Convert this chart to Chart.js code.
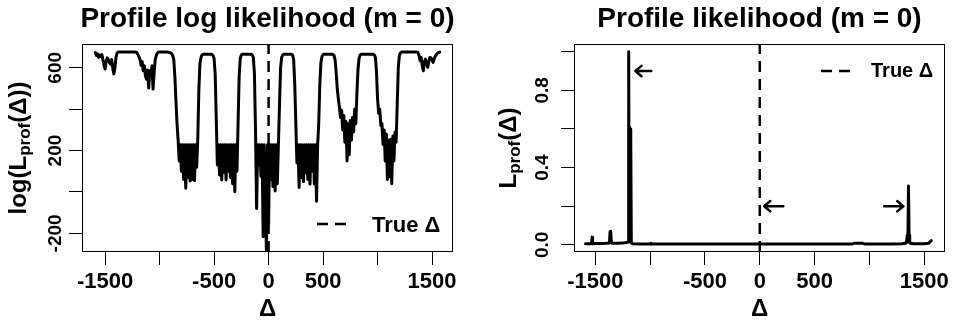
<!DOCTYPE html>
<html lang="en">
<head>
<meta charset="UTF-8">
<title>Profile likelihood (m = 0)</title>
<script src="https://cdn.jsdelivr.net/npm/chart.js@4"></script>
<style>
  body { margin: 0; background: #fff; }
  canvas.panel { position: absolute; top: 0; }
</style>
</head>
<body>
<canvas id="loglik" class="panel" width="478" height="327" style="left:0"></canvas>
<canvas id="lik" class="panel" width="478" height="327" style="left:478px"></canvas>
<script>
// --- data ---
const trueDelta = 0;

// left panel: profile log likelihood, delta grid
const deltaLoglik = [
  -1590, -1580, -1570, -1560, -1550, -1540, -1530, -1520, -1510, -1500,
  -1490, -1480, -1470, -1460, -1450, -1440, -1430, -1420, -1410, -1400,
  -1390, -1380, -1370, -1360, -1350, -1340, -1330, -1320, -1310, -1300,
  -1290, -1280, -1270, -1260, -1250, -1240, -1230, -1220, -1210, -1200,
  -1190, -1180, -1170, -1160, -1150, -1140, -1130, -1120, -1110, -1100,
  -1090, -1080, -1070, -1060, -1050, -1040, -1030, -1020, -1010, -1000,
  -990, -980, -970, -960, -950, -940, -930, -920, -910, -900,
  -890, -880, -870, -860, -850, -840, -830, -820, -810, -800,
  -790, -780, -770, -760, -750, -740, -730, -720, -710, -700,
  -690, -680, -670, -660, -650, -640, -630, -620, -610, -600,
  -590, -580, -570, -560, -550, -540, -530, -520, -510, -500,
  -490, -480, -470, -460, -450, -440, -430, -420, -410, -400,
  -390, -380, -370, -360, -350, -340, -330, -320, -310, -300,
  -290, -280, -270, -260, -250, -240, -230, -220, -210, -200,
  -190, -180, -170, -160, -150, -140, -130, -120, -110, -100,
  -90, -80, -70, -60, -50, -40, -30, -20, -10, 0,
  10, 20, 30, 40, 50, 60, 70, 80, 90, 100,
  110, 120, 130, 140, 150, 160, 170, 180, 190, 200,
  210, 220, 230, 240, 250, 260, 270, 280, 290, 300,
  310, 320, 330, 340, 350, 360, 370, 380, 390, 400,
  410, 420, 430, 440, 450, 460, 470, 480, 490, 500,
  510, 520, 530, 540, 550, 560, 570, 580, 590, 600,
  610, 620, 630, 640, 650, 660, 670, 680, 690, 700,
  710, 720, 730, 740, 750, 760, 770, 780, 790, 800,
  810, 820, 830, 840, 850, 860, 870, 880, 890, 900,
  910, 920, 930, 940, 950, 960, 970, 980, 990, 1000,
  1010, 1020, 1030, 1040, 1050, 1060, 1070, 1080, 1090, 1100,
  1110, 1120, 1130, 1140, 1150, 1160, 1170, 1180, 1190, 1200,
  1210, 1220, 1230, 1240, 1250, 1260, 1270, 1280, 1290, 1300,
  1310, 1320, 1330, 1340, 1350, 1360, 1370, 1380, 1390, 1400,
  1410, 1420, 1430, 1440, 1450, 1460, 1470, 1480, 1490, 1500,
  1510, 1520, 1530, 1540, 1550, 1560, 1570
];
const logLik = [
  674, 660, 668, 650, 662, 655, 664, 640, 612, 594,
  630, 648, 640, 626, 618, 640, 600, 570, 600, 650,
  672, 676, 676, 676, 676, 676, 676, 676, 676, 676,
  676, 676, 676, 676, 676, 676, 676, 676, 674, 665,
  655, 640, 612, 630, 586, 610, 560, 545, 590, 502,
  586, 560, 610, 497, 577, 640, 660, 672, 676, 676,
  676, 676, 676, 676, 676, 676, 676, 675, 674, 672,
  668, 660, 640, 560, 440, 330, 250, 150, 228, 100,
  228, 60, 228, 18, 228, 70, 228, 53, 228, 60,
  228, 55, 228, 120, 251, 490, 620, 650, 662, 666,
  666, 666, 666, 666, 666, 666, 665, 664, 660, 645,
  570, 350, 130, 228, 82, 228, 58, 228, 95, 228,
  58, 228, 100, 228, 70, 228, 40, 228, 1, 228,
  100, 333, 560, 645, 662, 666, 666, 666, 666, 666,
  666, 666, 666, 665, 662, 650, 573, 300, -80, 228,
  130, 228, 75, 228, -216, 228, -42, -284, 228, -155,
  228, 60, 228, 26, 228, 5, 228, 40, 228, 420,
  600, 650, 662, 666, 666, 666, 666, 666, 666, 666,
  665, 662, 640, 520, 330, 140, 228, 22, 228, 70,
  228, 50, 228, 92, 228, 60, 228, 38, 228, 100,
  228, 38, 228, -45, 228, 330, 520, 625, 655, 664,
  666, 666, 666, 666, 666, 666, 666, 666, 664, 660,
  640, 580, 500, 450, 410, 360, 395, 300, 370, 240,
  340, 150, 330, 180, 345, 250, 360, 290, 400, 330,
  470, 590, 645, 662, 666, 666, 666, 666, 666, 666,
  666, 666, 666, 666, 666, 665, 662, 650, 580, 450,
  380, 400, 320, 330, 230, 300, 150, 280, 60, 250,
  75, 255, 40, 270, 150, 290, 240, 420, 600, 660,
  672, 676, 676, 676, 676, 676, 676, 676, 676, 676,
  676, 676, 676, 676, 676, 676, 674, 660, 634, 650,
  610, 586, 630, 642, 620, 602, 630, 650, 648, 636,
  626, 645, 657, 664, 670, 674, 676
];

// right panel: profile likelihood
const deltaLik = [
  -1590, -1560, -1535, -1530, -1525, -1500, -1450, -1400, -1372, -1366,
  -1360, -1354, -1348, -1300, -1250, -1215, -1202, -1196, -1192, -1188,
  -1185, -1182, -1179, -1176, -1172, -1160, -1100, -1000, -994, -986,
  -900, -600, -300, 0, 300, 600, 840, 860, 940, 960,
  1200, 1300, 1338, 1346, 1352, 1357, 1362, 1368, 1400, 1500,
  1540, 1565
];
const lik = [
  0.006, 0.006, 0.006, 0.04, 0.006, 0.007, 0.007, 0.008, 0.01, 0.068,
  0.07, 0.012, 0.008, 0.008, 0.009, 0.012, 0.015, 1.0, 0.02, 0.61,
  0.02, 0.6, 0.02, 0.6, 0.01, 0.006, 0.005, 0.005, 0.008, 0.005,
  0.004, 0.004, 0.004, 0.004, 0.004, 0.004, 0.004, 0.008, 0.008, 0.004,
  0.004, 0.006, 0.01, 0.05, 0.06, 0.305, 0.05, 0.01, 0.006, 0.006,
  0.008, 0.022
];

// arrows on the right panel (tail -> head, data units)
const arrowTail = [[-990, 0.9], [215, 0.2], [1135, 0.2]];
const arrowHead = [[-1135, 0.9], [40, 0.2], [1310, 0.2]];

// axis ticks and which of them get a label
const xTicks = [-1500, -1000, -500, 0, 500, 1000, 1500];
const xLabels = [-1500, -500, 0, 500, 1500];
const yTicksLoglik = [-200, 0, 200, 400, 600];
const yLabelsLoglik = [-200, 200, 600];
const yTicksLik = [0, 0.2, 0.4, 0.6, 0.8, 1.0];
const yLabelsLik = [0, 0.4, 0.8];

const FONT = "'Liberation Sans', Arial, Helvetica, sans-serif";

// R-style decorations: box, title, y label with subscript, legend, arrows
const rDecor = {
  id: 'rDecor',
  afterDraw(chart, args, o) {
    const { ctx, chartArea: a, scales: { x, y } } = chart;
    ctx.save();
    ctx.strokeStyle = '#000';
    ctx.fillStyle = '#000';
    ctx.lineWidth = 1;
    ctx.strokeRect(Math.round(a.left) + 0.5, Math.round(a.top) + 0.5,
      Math.round(a.right - a.left) - 1, Math.round(a.bottom - a.top) - 1);

    // main title
    ctx.font = `bold 28px ${FONT}`;
    ctx.textAlign = 'center';
    ctx.textBaseline = 'alphabetic';
    ctx.fillText(o.title, (a.left + a.right) / 2, 27);

    // y label, rotated, with "prof" subscript
    ctx.save();
    ctx.translate(o.ylabX, (a.top + a.bottom) / 2);
    ctx.rotate(-Math.PI / 2);
    const big = `bold 24px ${FONT}`, small = `bold 17px ${FONT}`;
    ctx.font = big;
    const w1 = ctx.measureText(o.ylabPre).width, w3 = ctx.measureText(o.ylabPost).width;
    ctx.font = small;
    const w2 = ctx.measureText('prof').width;
    let sx = -(w1 + w2 + w3) / 2;
    ctx.textAlign = 'left';
    ctx.font = big; ctx.fillText(o.ylabPre, sx, 0); sx += w1;
    ctx.font = small; ctx.fillText('prof', sx, 4); sx += w2;
    ctx.font = big; ctx.fillText(o.ylabPost, sx, 0);
    ctx.restore();

    // legend (no box)
    const lg = o.legend;
    ctx.lineWidth = 2.5;
    ctx.setLineDash([11, 7]);
    ctx.beginPath();
    ctx.moveTo(lg.x0, lg.y);
    ctx.lineTo(lg.x1, lg.y);
    ctx.stroke();
    ctx.setLineDash([]);
    ctx.font = `bold ${lg.size}px ${FONT}`;
    ctx.textAlign = 'left';
    ctx.fillText('True \u0394', lg.textX, lg.baseline);

    // arrows
    ctx.lineWidth = 2.5;
    ctx.lineCap = 'round';
    ctx.lineJoin = 'round';
    (o.arrows || []).forEach(([t, h]) => {
      const px0 = x.getPixelForValue(t[0]), py0 = y.getPixelForValue(t[1]);
      const px1 = x.getPixelForValue(h[0]), py1 = y.getPixelForValue(h[1]);
      const ang = Math.atan2(py1 - py0, px1 - px0), len = 8, spread = 0.7;
      ctx.beginPath();
      ctx.moveTo(px0, py0);
      ctx.lineTo(px1, py1);
      ctx.moveTo(px1 - len * Math.cos(ang - spread), py1 - len * Math.sin(ang - spread));
      ctx.lineTo(px1, py1);
      ctx.lineTo(px1 - len * Math.cos(ang + spread), py1 - len * Math.sin(ang + spread));
      ctx.stroke();
    });
    ctx.restore();
  }
};

function makePanel(id, cfg) {
  const tickFont = { family: FONT, weight: 'bold' };
  return new Chart(document.getElementById(id), {
    type: 'line',
    data: {
      datasets: [
        {
          data: cfg.xs.map((v, i) => ({ x: v, y: cfg.ys[i] })),
          borderColor: '#000', borderWidth: 3, pointRadius: 0,
          borderJoinStyle: 'round', borderCapStyle: 'round', tension: 0
        },
        {
          data: [{ x: trueDelta, y: cfg.yMin }, { x: trueDelta, y: cfg.yMax }],
          borderColor: '#000', borderWidth: 2.5, borderDash: [11, 7], pointRadius: 0
        }
      ]
    },
    options: {
      responsive: false,
      animation: false,
      devicePixelRatio: 1,
      layout: { padding: { top: 44, right: cfg.padRight, left: 0, bottom: 0 } },
      plugins: {
        legend: { display: false },
        tooltip: { enabled: false },
        rDecor: cfg.decor
      },
      scales: {
        x: {
          type: 'linear',
          min: cfg.xMin, max: cfg.xMax,
          afterBuildTicks: s => { s.ticks = xTicks.map(v => ({ value: v })); },
          afterFit: s => { s.height = 75; },
          ticks: {
            callback: v => xLabels.includes(v) ? String(v) : '',
            font: { ...tickFont, size: 22 }, color: '#000', padding: 4,
            minRotation: 0, maxRotation: 0, autoSkip: false
          },
          grid: { drawOnChartArea: false, drawTicks: true, tickLength: 13, color: '#000', lineWidth: 1 },
          border: { display: false },
          title: { display: true, text: '\u0394', color: '#000', font: { ...tickFont, size: 24 }, padding: { top: 0, bottom: 3 } }
        },
        y: {
          type: 'linear',
          min: cfg.yMin, max: cfg.yMax,
          afterBuildTicks: s => { s.ticks = cfg.yTicks.map(v => ({ value: v })); },
          afterFit: s => { s.width = cfg.yWidth; },
          ticks: {
            callback: v => cfg.yLabels.includes(v) ? cfg.fmt(v) : '',
            font: { ...tickFont, size: 19 }, color: '#000',
            minRotation: 90, maxRotation: 90, crossAlign: 'center', padding: cfg.yPad, autoSkip: false
          },
          grid: { drawOnChartArea: false, drawTicks: true, tickLength: 13, color: '#000', lineWidth: 1 },
          border: { display: false }
        }
      }
    },
    plugins: [rDecor]
  });
}

makePanel('loglik', {
  xs: deltaLoglik, ys: logLik,
  xMin: -1712, xMax: 1692, yMin: -290, yMax: 715,
  yTicks: yTicksLoglik, yLabels: yLabelsLoglik, fmt: v => String(v),
  yWidth: 82, yPad: -6, padRight: 25,
  decor: {
    title: 'Profile log likelihood (m = 0)',
    ylabX: 26, ylabPre: 'log(L', ylabPost: '(\u0394))',
    legend: { x0: 317, x1: 347, y: 224, textX: 372, baseline: 232, size: 22 }
  }
});

makePanel('lik', {
  xs: deltaLik, ys: lik,
  xMin: -1695, xMax: 1690, yMin: -0.037, yMax: 1.04,
  yTicks: yTicksLik, yLabels: yLabelsLik, fmt: v => v.toFixed(1),
  yWidth: 96, yPad: 5, padRight: 11,
  decor: {
    title: 'Profile likelihood (m = 0)',
    ylabX: 38, ylabPre: 'L', ylabPost: '(\u0394)',
    legend: { x0: 343, x1: 373, y: 71, textX: 393, baseline: 77, size: 20 },
    arrows: arrowTail.map((t, i) => [t, arrowHead[i]])
  }
});
</script>
</body>
</html>
